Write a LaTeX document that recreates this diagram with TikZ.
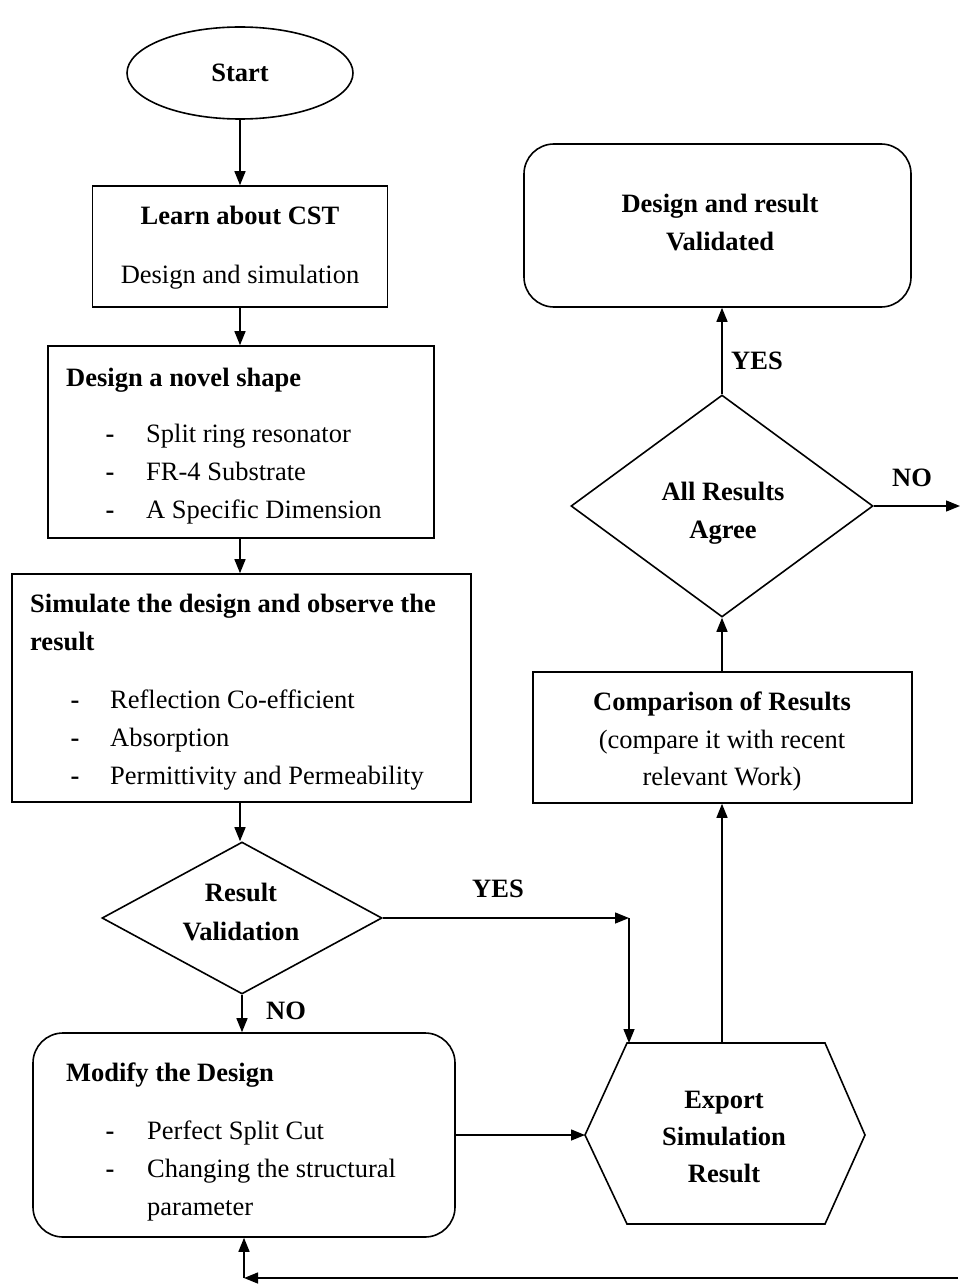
\documentclass[tikz,border=0pt]{standalone}
\usepackage{fontspec}
\setmainfont{Liberation Serif}
\usetikzlibrary{arrows.meta,shapes.geometric}

\tikzset{
  flowline/.style={line width=1.4pt},
  arr/.style={flowline,-{Triangle[length=14pt,width=11pt]}},
  startnode/.style={draw,ellipse,line width=1.6pt,inner sep=0pt,minimum width=226pt,minimum height=92pt},
  procbox/.style={draw,rectangle,line width=1.6pt,inner sep=0pt},
  roundbox/.style={procbox,rounded corners=30pt},
  decision/.style={draw,diamond,line width=1.6pt,inner sep=0pt},
  txt/.style={inner sep=0pt,anchor=base,font=\fontsize{26.5}{38}\selectfont},
  btxt/.style={txt,font=\fontsize{26.5}{38}\selectfont\bfseries},
  ltxt/.style={txt,anchor=base west},
  lbtxt/.style={btxt,anchor=base west}
}

\begin{document}
\begin{tikzpicture}[x=1pt,y=1pt,yscale=-1]
    \useasboundingbox (0,0) rectangle (960,1284);

    %Left column shapes
    \node[startnode] (start) at (240,73) {};
    \node[procbox,minimum width=295pt,minimum height=121pt] (learn) at (240,246.5) {};
    \node[procbox,minimum width=386pt,minimum height=192pt] (design) at (241,442) {};
    \node[procbox,minimum width=459pt,minimum height=228pt] (simulate) at (241.5,688) {};
    \node[decision,minimum width=280pt,minimum height=152pt] (check) at (242,918) {};
    \node[roundbox,minimum width=422pt,minimum height=204pt] (modify) at (244,1135) {};

    %Right column shapes
    \node[roundbox,minimum width=387pt,minimum height=163pt] (done) at (717.5,225.5) {};
    \node[decision,minimum width=302pt,minimum height=222pt] (agree) at (722,506) {};
    \node[procbox,minimum width=379pt,minimum height=131pt] (compare) at (722.5,737.5) {};
    %Shape: Hexagon
    \coordinate (hexNW) at (627,1043);
    \coordinate (hexN) at (722,1043);
    \coordinate (hexW) at (585,1135);
    \draw[line width=1.6pt] (hexNW) -- (825,1043) -- (865,1135) -- (825,1224) -- (627,1224) -- (hexW) -- cycle;

    %Texts
    \node[btxt] (startT) at (240,82) {Start};
    \node[btxt] (learnT) at (240,224) {Learn about CST};
    \node[txt] (learnS) at (240,283) {Design and simulation};
    \node[lbtxt] (designT) at (66,386) {Design a novel shape};
    \foreach \i/\y/\t in {1/442/Split ring resonator, 2/480/FR-4 Substrate, 3/518/A Specific Dimension} {
      \node[btxt] (designD\i) at (110,\y) {-};
      \node[ltxt] (designI\i) at (146,\y) {\t};
    }
    \node[lbtxt] (simT1) at (30,612) {Simulate the design and observe the};
    \node[lbtxt] (simT2) at (30,650) {result};
    \foreach \i/\y/\t in {1/708/Reflection Co-efficient, 2/746/Absorption, 3/784/Permittivity and Permeability} {
      \node[btxt] (simD\i) at (75,\y) {-};
      \node[ltxt] (simI\i) at (110,\y) {\t};
    }
    \node[btxt] (checkT1) at (241,901) {Result};
    \node[btxt] (checkT2) at (241,940) {Validation};
    \node[lbtxt] (modifyT) at (66,1081) {Modify the Design};
    \foreach \i/\y/\t in {1/1139/Perfect Split Cut, 2/1177/Changing the structural, 3/1215/parameter} {
      \node[ltxt] (modifyI\i) at (147,\y) {\t};
    }
    \node[btxt] (modifyD1) at (110,1139) {-};
    \node[btxt] (modifyD2) at (110,1177) {-};
    \node[btxt] (exportT1) at (724,1108) {Export};
    \node[btxt] (exportT2) at (724,1145) {Simulation};
    \node[btxt] (exportT3) at (724,1182) {Result};
    \node[btxt] (compareT1) at (722,710) {Comparison of Results};
    \node[txt] (compareT2) at (722,748) {(compare it with recent};
    \node[txt] (compareT3) at (722,785) {relevant Work)};
    \node[btxt] (agreeT1) at (723,500) {All Results};
    \node[btxt] (agreeT2) at (723,538) {Agree};
    \node[btxt] (doneT1) at (720,212) {Design and result};
    \node[btxt] (doneT2) at (720,250) {Validated};

    %Labels
    \node[btxt] (yesA) at (498,897) {YES};
    \node[btxt] (noA) at (286,1019) {NO};
    \node[btxt] (yesB) at (757,369) {YES};
    \node[btxt] (noB) at (912,486) {NO};

    %Connectors
    \draw[arr] (start.south) -- (start.south |- learn.north);
    \draw[arr] (learn.south) -- (learn.south |- design.north);
    \draw[arr] (learn.south |- design.south) -- (learn.south |- simulate.north);
    \draw[arr] (learn.south |- simulate.south) -- (learn.south |- check.north);
    \draw[arr] (check.south) -- (check.south |- modify.north);
    \coordinate (yesC) at (629,918);
    \draw[arr] (check.east) -- (yesC);
    \draw[arr] (yesC) -- (yesC |- hexNW);
    \draw[arr] (modify.east |- hexW) -- (hexW);
    \draw[arr] (hexN) -- (hexN |- compare.south);
    \draw[arr] (hexN |- compare.north) -- (hexN |- agree.south);
    \draw[arr] (agree.north) -- (agree.north |- done.south);
    \coordinate (noEnd) at (960,506);
    \draw[arr] (agree.east) -- (noEnd);
    %Feedback line
    \coordinate (backR) at (958,1278);
    \coordinate (backL) at (244,1278);
    \draw[arr] (backR) -- (backL);
    \draw[arr] (backL) -- (modify.south);
\end{tikzpicture}
\end{document}
